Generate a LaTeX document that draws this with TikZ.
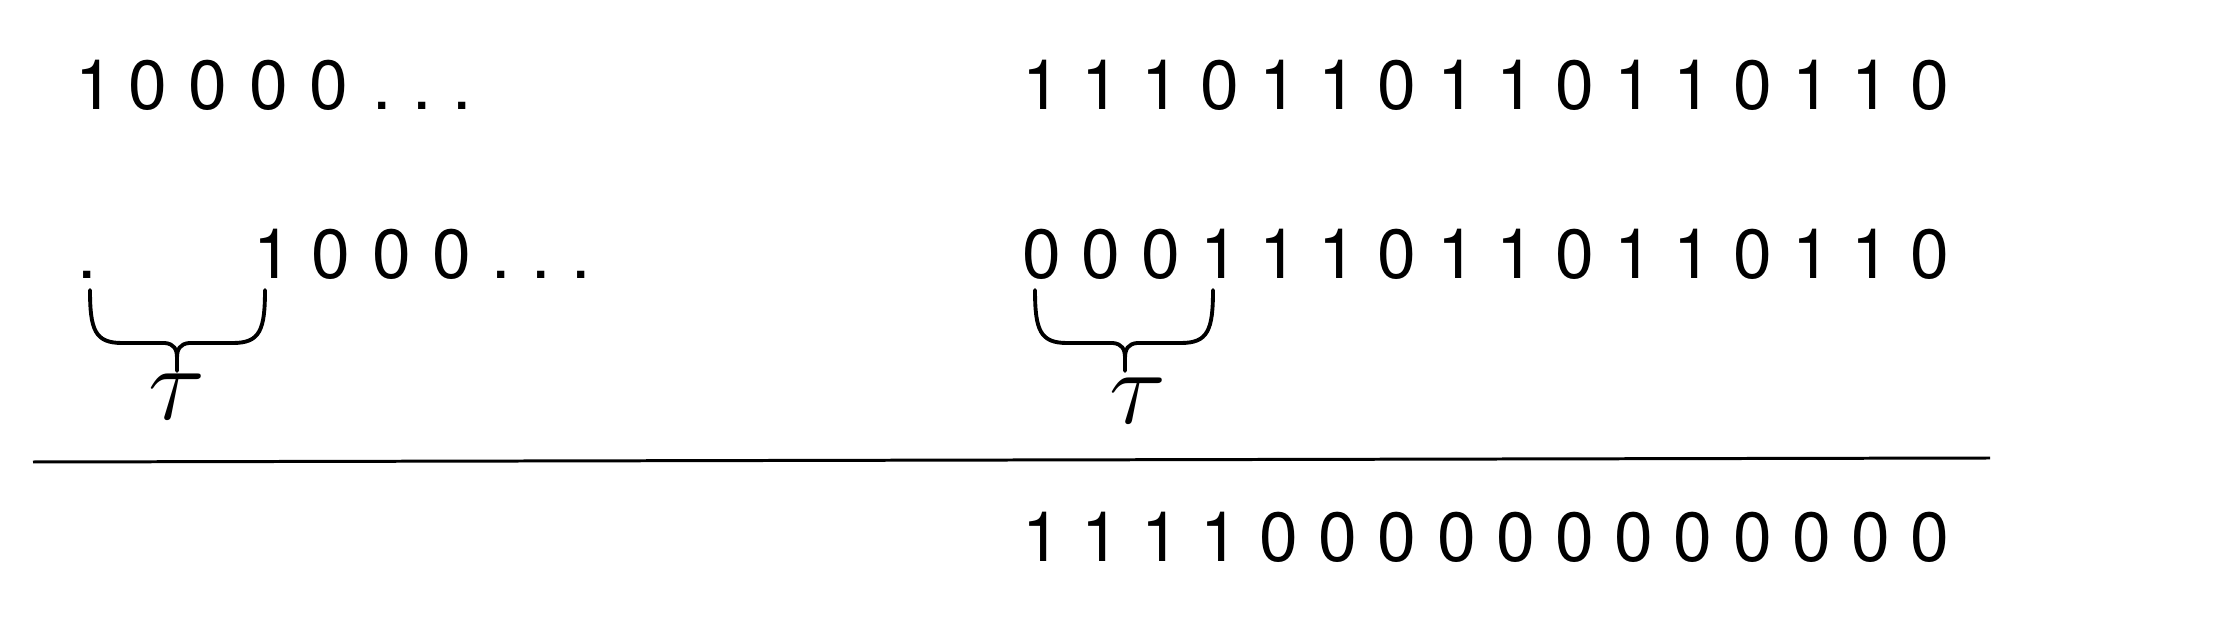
\documentclass[tikz,border=0pt]{standalone}
\usepackage{fontspec}
\setmainfont{TeX Gyre Heros}
\usepackage{xcolor}

\tikzset{
  bit/.style={anchor=base, inner sep=0pt, font=\fontsize{19.8}{24}\selectfont},
  shiftlabel/.style={inner sep=0pt, scale=1.45, font=\fontsize{20.74}{25}\selectfont},
  bracket/.style={line width=1.1pt, line join=round, line cap=round}
}

\begin{document}
\begin{tikzpicture}[x=0.01cm, y=-0.01cm]
\useasboundingbox (0,0) rectangle (2237,622);

% Signal
\node[bit] (a1) at (95,110) {1};
\foreach \i in {2,...,5}
  \node[bit] (a\i) at ({148+(\i-2)*60.3},110) {0};
\foreach \i in {1,2,3}
  \node[bit] (adot\i) at ({382+(\i-1)*40},110) {.};

% Shifted signal
\node[bit] (b0) at (87,279) {.};
\node[bit] (b1) at (272.5,279) {1};
\foreach \i in {2,3,4}
  \node[bit] (b\i) at ({331+(\i-2)*60.5},279) {0};
\foreach \i in {1,2,3}
  \node[bit] (bdot\i) at ({501+(\i-1)*40},279) {.};

% Sequence
\foreach \d [count=\i] in {1,1,1,0,1,1,0,1,1,0,1,1,0,1,1,0}
  \node[bit] (c\i) at ({1042+(\i-1)*59.2},110) {\d};
\foreach \d [count=\i] in {0,0,0,1,1,1,0,1,1,0,1,1,0,1,1,0}
  \node[bit] (d\i) at ({1042+(\i-1)*59.2},279) {\d};

% Braces
\foreach \a/\b/\m/\n in {90/265/177/l, 1035/1213/1125/r} {
  \draw[bracket] (\a,290) .. controls (\a,330) and ({\a+5},343) .. ({\a+32},343)
    -- ({\m-12},343) .. controls ({\m-3},344) and (\m,349) .. (\m,358) -- (\m,371)
    (\m,358) .. controls (\m,349) and ({\m+3},344) .. ({\m+12},343)
    -- ({\b-32},343) .. controls ({\b-5},343) and (\b,330) .. (\b,290);
  \coordinate (tip\n) at (\m,371);
}
\node[shiftlabel] (taul) at (177,397) {$\tau$};
\node[shiftlabel] (taur) at (1138,401) {$\tau$};

% Result
\coordinate (ls) at (33,462);
\coordinate (le) at (1990,458);
\draw[line width=0.85pt] (ls) -- (le);
\foreach \d [count=\i] in {1,1,1,1,0,0,0,0,0,0,0,0,0,0,0,0}
  \node[bit] (e\i) at ({1042+(\i-1)*59.2},562) {\d};

\end{tikzpicture}
\end{document}
